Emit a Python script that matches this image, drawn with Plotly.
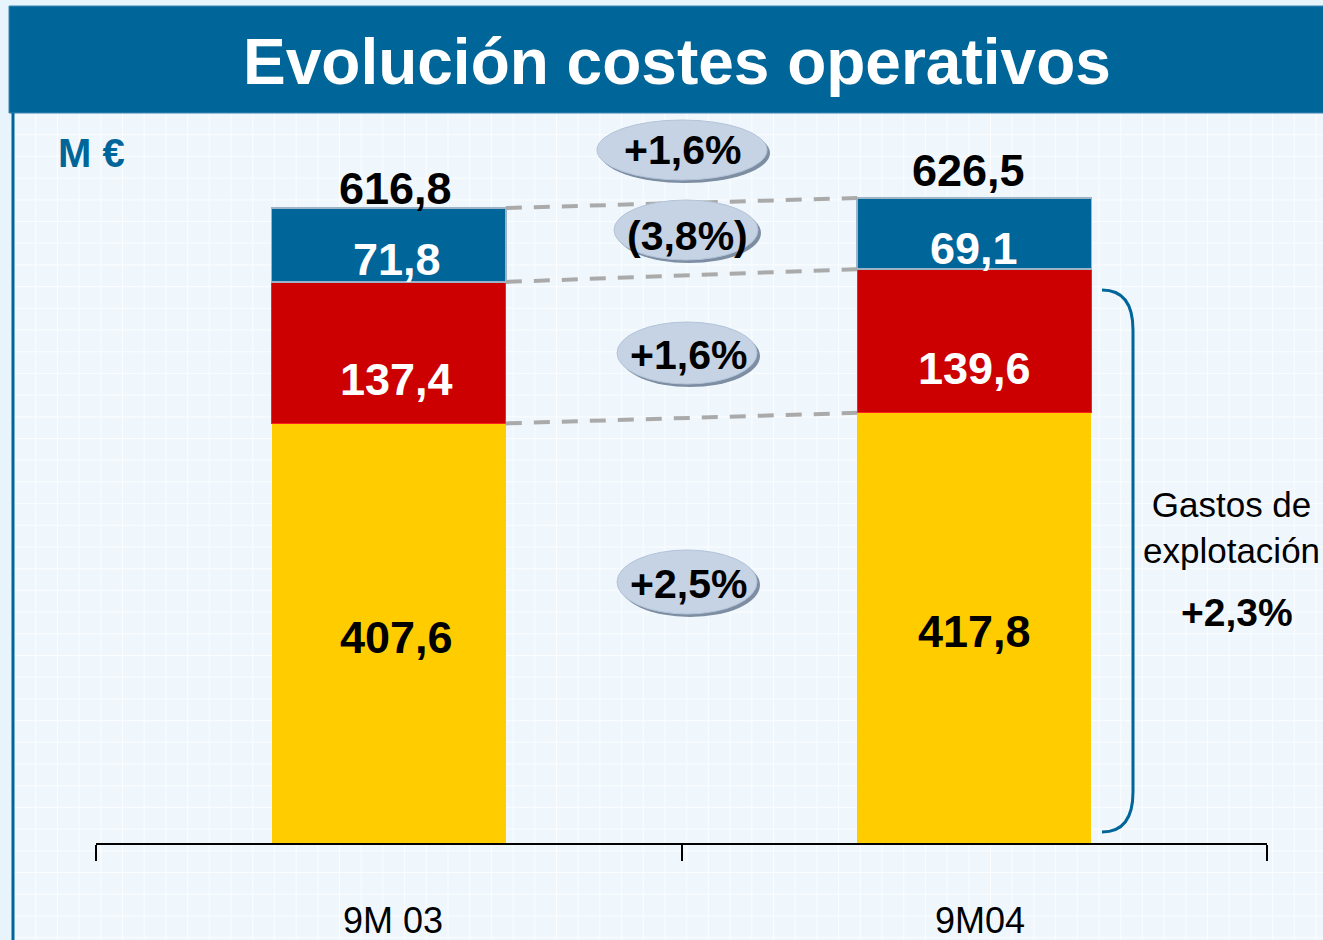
import plotly.graph_objects as go

# ---------------- data ----------------
categories = ["9M 03", "9M04"]
personal = [407.6, 417.8]       # yellow
generales = [137.4, 139.6]      # red
amortiz = [71.8, 69.1]          # blue
totals = [616.8, 626.5]
growth_labels = ["+1,6%", "(3,8%)", "+1,6%", "+2,5%"]
title_text = "Evolución costes operativos"
unit_text = "M €"
brace_text = "Gastos de<br>explotación"
brace_growth = "+2,3%"

# ---------------- styling ----------------
W, H = 1323, 940
ML, MR, MT, MB = 96, 56, 113, 97
PW, PH = W - ML - MR, H - MT - MB
FONT = "Liberation Sans, Arial, sans-serif"
BLUE = "#006699"
RED = "#CC0000"
YELLOW = "#FFCC00"


def PX(x):
    return (x - ML) / PW


def PY(y):
    return (H - MB - y) / PH


def fmt(v):
    return f"{v:.1f}".replace(".", ",")


fig = go.Figure()
bar_w = 0.40
fig.add_trace(go.Bar(x=categories, y=personal, marker=dict(color=YELLOW, line=dict(width=0)),
                     width=bar_w, name="personal"))
fig.add_trace(go.Bar(x=categories, y=generales, marker=dict(color=RED, line=dict(color="#ff2020", width=1)),
                     width=bar_w, name="generales"))
fig.add_trace(go.Bar(x=categories, y=amortiz, marker=dict(color=BLUE, line=dict(color="#9db3c8", width=1.5)),
                     width=bar_w, name="amortiz"))

shapes = []
# backgrounds
shapes.append(dict(type="rect", xref="paper", yref="paper", x0=PX(14), x1=PX(W + 5), y0=PY(113), y1=PY(H + 5),
                   fillcolor="#f0f7fc", line=dict(width=0), layer="below"))
gx = 14 + 21.7
while gx < W:
    shapes.append(dict(type="line", xref="paper", yref="paper", x0=PX(gx), x1=PX(gx), y0=PY(113), y1=PY(H),
                       line=dict(color="#fbfdff", width=1), layer="below"))
    gx += 21.7
gy = 113 + 21.7
while gy < H:
    shapes.append(dict(type="line", xref="paper", yref="paper", x0=PX(14), x1=PX(W), y0=PY(gy), y1=PY(gy),
                       line=dict(color="#fbfdff", width=1), layer="below"))
    gy += 21.7
# title bar
shapes.append(dict(type="rect", xref="paper", yref="paper", x0=PX(9), x1=PX(W + 5), y0=PY(6), y1=PY(113),
                   fillcolor=BLUE, line=dict(color="#3f86b3", width=1), layer="below"))
# left vertical line
shapes.append(dict(type="line", xref="paper", yref="paper", x0=PX(13), x1=PX(13), y0=PY(113), y1=PY(H + 5),
                   line=dict(color=BLUE, width=3), layer="below"))

# dashed connectors between segment boundaries
cum_p = personal
cum_g = [a + b for a, b in zip(personal, generales)]
cum_t = [a + b + c for a, b, c in zip(personal, generales, amortiz)]
for lvl in (cum_t, cum_g, cum_p):
    shapes.append(dict(type="line", xref="x", yref="y", x0=0 + bar_w / 2, x1=1 - bar_w / 2,
                       y0=lvl[0], y1=lvl[1],
                       line=dict(color="#aaaaaa", width=4, dash="16px,12px")))

# badges (ellipses)
badges = [(682, 150, 170, 60), (686, 230, 144, 60), (687, 353, 140, 62), (687, 582, 140, 64)]
for cx, cy, bw, bh in badges:
    shapes.append(dict(type="circle", xref="paper", yref="paper",
                       x0=PX(cx - bw / 2 + 3), x1=PX(cx + bw / 2 + 3), y0=PY(cy - bh / 2 + 3), y1=PY(cy + bh / 2 + 3),
                       fillcolor="#7d8ea3", line=dict(width=0)))
    shapes.append(dict(type="circle", xref="paper", yref="paper",
                       x0=PX(cx - bw / 2), x1=PX(cx + bw / 2), y0=PY(cy - bh / 2), y1=PY(cy + bh / 2),
                       fillcolor="#c5d3e5", line=dict(color="#b3c3d8", width=1)))

# brace
bx0, bx1, by0, by1 = 1102, 1133, 290, 832
path = (f"M {PX(bx0)},{PY(by0)} Q {PX(bx1)},{PY(by0)} {PX(bx1)},{PY(by0 + 40)} "
        f"L {PX(bx1)},{PY(by1 - 40)} Q {PX(bx1)},{PY(by1)} {PX(bx0)},{PY(by1)}")
shapes.append(dict(type="path", xref="paper", yref="paper", path=path, line=dict(color=BLUE, width=3)))

annotations = []
# title
annotations.append(dict(text=f"<b>{title_text}</b>", xref="paper", yref="paper", x=PX(677), y=PY(62),
                        showarrow=False, font=dict(family=FONT, size=64, color="white"),
                        xanchor="center", yanchor="middle"))
# unit
annotations.append(dict(text=f"<b>{unit_text}</b>", xref="paper", yref="paper", x=PX(56), y=PY(153),
                        showarrow=False, font=dict(family=FONT, size=40, color=BLUE),
                        xanchor="left", yanchor="middle"))
# segment labels
big = 45
label_xshift = [8, 0]
for i, c in enumerate(categories):
    xs = label_xshift[i]
    annotations.append(dict(text=f"<b>{fmt(personal[i])}</b>", x=i, y=personal[i] / 2, xref="x", yref="y",
                            yshift=-4, xshift=xs, showarrow=False,
                            font=dict(family=FONT, size=big, color="black")))
    annotations.append(dict(text=f"<b>{fmt(generales[i])}</b>", x=i, y=personal[i] + generales[i] / 2,
                            xref="x", yref="y", yshift=-27, xshift=xs, showarrow=False,
                            font=dict(family=FONT, size=big, color="white")))
    annotations.append(dict(text=f"<b>{fmt(amortiz[i])}</b>", x=i, y=cum_g[i] + amortiz[i] / 2,
                            xref="x", yref="y", yshift=-15, xshift=xs, showarrow=False,
                            font=dict(family=FONT, size=big, color="white")))
total_shift = [20, 28]
total_xshift = [7, -6]
cat_xshift = [4, 6]
for i, c in enumerate(categories):
    annotations.append(dict(text=f"<b>{fmt(totals[i])}</b>", x=i, y=totals[i], xref="x", yref="y",
                            yshift=total_shift[i], xshift=total_xshift[i], showarrow=False,
                            font=dict(family=FONT, size=big, color="black")))
    # category labels
    annotations.append(dict(text=c, x=i, y=0, xref="x", yref="y", yshift=-77, xshift=cat_xshift[i],
                            showarrow=False, font=dict(family=FONT, size=36, color="black")))
# badge texts
badge_text_pos = [(682, 150), (687, 236), (688, 355), (688, 584)]
for (tx, ty), t in zip(badge_text_pos, growth_labels):
    annotations.append(dict(text=f"<b>{t}</b>", xref="paper", yref="paper", x=PX(tx), y=PY(ty),
                            showarrow=False, font=dict(family=FONT, size=41, color="black"),
                            xanchor="center", yanchor="middle"))
# brace texts
annotations.append(dict(text=brace_text, xref="paper", yref="paper", x=PX(1231), y=PY(527),
                        showarrow=False, font=dict(family=FONT, size=35, color="black"),
                        xanchor="center", yanchor="middle"))
annotations.append(dict(text=f"<b>{brace_growth}</b>", xref="paper", yref="paper", x=PX(1237), y=PY(612),
                        showarrow=False, font=dict(family=FONT, size=39, color="black"),
                        xanchor="center", yanchor="middle"))

fig.update_layout(
    width=W, height=H,
    margin=dict(l=ML, r=MR, t=MT, b=MB, autoexpand=False),
    paper_bgcolor="#e8f4fc",
    plot_bgcolor="rgba(0,0,0,0)",
    barmode="stack",
    showlegend=False,
    shapes=shapes,
    annotations=annotations,
    xaxis=dict(type="category", range=[-0.5, 1.5], tickson="boundaries", ticks="outside", ticklen=16,
               tickcolor="black", tickwidth=1.5, showline=True, linecolor="black", linewidth=1.5,
               showticklabels=False, showgrid=False, zeroline=False, fixedrange=True),
    yaxis=dict(range=[0, PH / 1.0295], visible=False, showgrid=False, zeroline=False, fixedrange=True),
)

fig.write_html("out.html", config={"displayModeBar": False},
               post_script="document.body.style.margin='0px';document.body.style.overflow='hidden';")
